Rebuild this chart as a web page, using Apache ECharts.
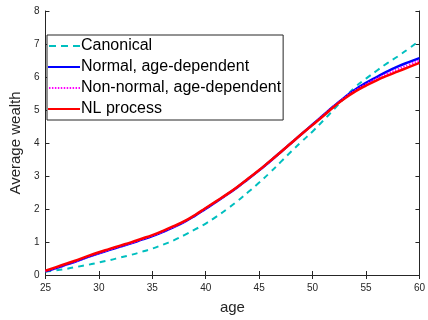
<!DOCTYPE html>
<html>
<head>
<meta charset="utf-8">
<script src="https://cdn.jsdelivr.net/npm/echarts@6/dist/echarts.min.js"></script>
<style>
  html, body { margin: 0; padding: 0; background: #fff; }
  #chart { width: 428px; height: 320px; }
</style>
</head>
<body>
<div id="chart"></div>
<script>
const ages = [25, 26, 27, 28, 29, 30, 31, 32, 33, 34, 35, 36, 37, 38, 39, 40, 41, 42,
  43, 44, 45, 46, 47, 48, 49, 50, 51, 52, 53, 54, 55, 56, 57, 58, 59, 60];

const canonical = [0.10, 0.14, 0.19, 0.25, 0.31, 0.38, 0.45, 0.53, 0.61, 0.70, 0.80, 0.92,
  1.05, 1.21, 1.38, 1.56, 1.77, 2.00, 2.25, 2.52, 2.80, 3.10, 3.42, 3.74, 4.05, 4.35,
  4.68, 5.02, 5.37, 5.70, 5.95, 6.19, 6.42, 6.63, 6.86, 7.10];

const normalAge = [0.11, 0.21, 0.32, 0.43, 0.55, 0.66, 0.76, 0.86, 0.96, 1.07, 1.18, 1.31,
  1.45, 1.61, 1.80, 2.01, 2.22, 2.44, 2.67, 2.92, 3.17, 3.44, 3.72, 4.00, 4.28, 4.56,
  4.84, 5.12, 5.38, 5.62, 5.82, 6.00, 6.17, 6.32, 6.45, 6.57];

const nonNormalAge = [0.12, 0.22, 0.33, 0.44, 0.56, 0.67, 0.77, 0.87, 0.97, 1.08, 1.19, 1.32,
  1.46, 1.62, 1.81, 2.02, 2.23, 2.44, 2.67, 2.92, 3.17, 3.44, 3.72, 4.00, 4.28, 4.55,
  4.83, 5.11, 5.37, 5.59, 5.78, 5.95, 6.10, 6.24, 6.37, 6.50];

const nlProcess = [0.13, 0.24, 0.35, 0.46, 0.58, 0.69, 0.79, 0.89, 0.99, 1.10, 1.21, 1.34,
  1.48, 1.63, 1.82, 2.03, 2.24, 2.45, 2.68, 2.93, 3.18, 3.45, 3.72, 4.00, 4.28, 4.55,
  4.82, 5.10, 5.35, 5.56, 5.74, 5.90, 6.04, 6.17, 6.30, 6.43];

const pairs = vals => ages.map((a, i) => [a, vals[i]]);

const font = 'Liberation Sans, Arial, Helvetica, sans-serif';
const axisColor = '#262626';

// legend icons drawn in a 32x14 box
const solidIcon = 'path://M0,6L32,6L32,8L0,8Z';
const dashIcon = 'path://M0,0L0,0Z M1,6L8,6L8,8L1,8Z M13,6L20,6L20,8L13,8Z M25,6L32,6L32,8L25,8Z M32,14L32,14Z';
let dots = 'path://M0,0L0,0Z';
for (let x = 1; x < 32; x += 3) dots += ` M${x},6L${x + 1.5},6L${x + 1.5},8L${x},8Z`;
dots += ' M32,14L32,14Z';
const dotIcon = dots;

const chart = echarts.init(document.getElementById('chart'));

const tickStyle = { show: true, inside: true, length: 4, lineStyle: { color: axisColor } };

chart.setOption({
  animation: false,
  backgroundColor: '#fff',
  grid: { left: 41, right: 6, top: 11, bottom: 39 },
  legend: {
    orient: 'vertical',
    left: 47,
    top: 35,
    itemWidth: 32,
    itemHeight: 14,
    itemGap: 5,
    padding: [3, 2, 3, 1],
    borderColor: '#262626',
    borderWidth: 1,
    backgroundColor: '#fff',
    textStyle: { fontFamily: font, fontSize: 16, color: '#000', padding: [0, 0, 0, -4] },
    data: [
      { name: 'Canonical', icon: dashIcon },
      { name: 'Normal, age-dependent', icon: solidIcon },
      { name: 'Non-normal, age-dependent', icon: dotIcon },
      { name: 'NL process', icon: solidIcon }
    ]
  },
  xAxis: [
    {
      type: 'value', min: 25, max: 60, interval: 5,
      name: 'age', nameLocation: 'middle', nameGap: 25,
      nameTextStyle: { fontFamily: font, fontSize: 15, color: axisColor },
      axisLine: { lineStyle: { color: axisColor } },
      axisTick: tickStyle,
      axisLabel: { fontFamily: font, fontSize: 10, color: axisColor, margin: 8 },
      splitLine: { show: false }
    },
    {
      type: 'value', min: 25, max: 60, interval: 5, position: 'top',
      axisLine: { lineStyle: { color: axisColor } },
      axisTick: tickStyle,
      axisLabel: { show: false },
      splitLine: { show: false }
    }
  ],
  yAxis: [
    {
      type: 'value', min: 0, max: 8, interval: 1,
      name: 'Average wealth', nameLocation: 'middle', nameGap: 17,
      nameTextStyle: { fontFamily: font, fontSize: 15, color: axisColor },
      axisLine: { show: true, lineStyle: { color: axisColor } },
      axisTick: tickStyle,
      axisLabel: { fontFamily: font, fontSize: 10, color: axisColor, margin: 6 },
      splitLine: { show: false }
    },
    {
      type: 'value', min: 0, max: 8, interval: 1, position: 'right',
      axisLine: { show: true, lineStyle: { color: axisColor } },
      axisTick: tickStyle,
      axisLabel: { show: false },
      splitLine: { show: false }
    }
  ],
  series: [
    {
      name: 'Canonical', type: 'line', data: pairs(canonical), smooth: true,
      showSymbol: false, symbol: 'none',
      lineStyle: { color: '#00bfbf', width: 2, type: [6, 5] },
      itemStyle: { color: '#00bfbf' }
    },
    {
      name: 'Normal, age-dependent', type: 'line', data: pairs(normalAge), smooth: true,
      showSymbol: false, symbol: 'none',
      lineStyle: { color: '#0000ff', width: 2.5 },
      itemStyle: { color: '#0000ff' }
    },
    {
      name: 'Non-normal, age-dependent', type: 'line', data: pairs(nonNormalAge), smooth: true,
      showSymbol: false, symbol: 'none',
      lineStyle: { color: '#ff00ff', width: 2, type: [1.5, 1.5] },
      itemStyle: { color: '#ff00ff' }
    },
    {
      name: 'NL process', type: 'line', data: pairs(nlProcess), smooth: true,
      showSymbol: false, symbol: 'none',
      lineStyle: { color: '#ff0000', width: 2.5 },
      itemStyle: { color: '#ff0000' }
    }
  ]
});
</script>
</body>
</html>
